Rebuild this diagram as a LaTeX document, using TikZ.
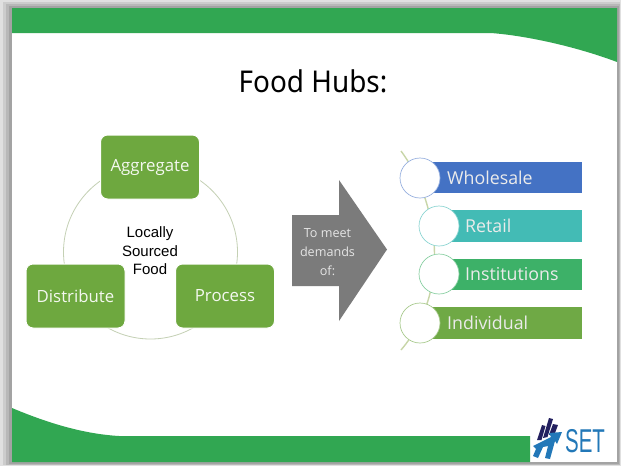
\documentclass[tikz,border=0pt]{standalone}
\usepackage{fontspec}
\setmainfont{Open Sans}
\newfontfamily\arialfont{Liberation Sans}
\newfontfamily\titlefont{Noto Sans}
\definecolor{bandgreen}{HTML}{31A752}
\definecolor{boxgreen}{HTML}{6EA83F}
\definecolor{arrowgray}{HTML}{7B7B7B}
\definecolor{ringgray}{HTML}{C4D0B4}
\definecolor{stem}{HTML}{C8D6A8}
\definecolor{barblue}{HTML}{4472C4}
\definecolor{barteal}{HTML}{43BBB5}
\definecolor{bargreen}{HTML}{3DB168}
\definecolor{barleaf}{HTML}{6FA945}
\definecolor{navy}{HTML}{23205F}
\definecolor{logoblue}{HTML}{2278B8}
\tikzset{
  stepbox/.style={draw=white,line width=1pt,fill=boxgreen,rounded corners=7pt,minimum width=99pt,minimum height=64pt,inner sep=0pt,text=white!92!boxgreen,font=\fontsize{16.8}{18}\selectfont},
  tag/.style={rectangle,inner sep=0pt,minimum height=31.5pt,anchor=west,text=white!92!black,font=\fontsize{17.8}{19}\selectfont,text width=#1,align=left},
  disc/.style={circle,draw=#1,fill=white,line width=.7pt,minimum size=40pt,inner sep=0pt},
}
\begin{document}
\begin{tikzpicture}[x=1pt,y=-1pt]
\useasboundingbox (0,0) rectangle (621,466);
\fill[black!12] (0,0) rectangle (621,466);
\fill[black!20] (3,2) rectangle (620,465);
\fill[black!28] (6,4) rectangle (619.5,465);
\fill[black!36] (9,6) rectangle (618.5,464);
\fill[white] (12,8) rectangle (617,462);
% green bands
\fill[bandgreen] (12,8) -- (617,8) -- (617,62) .. controls (580,48) and (530,36) .. (491,33) -- (12,33) -- cycle;
\fill[bandgreen] (12,462) -- (12,408) .. controls (50,424) and (85,434) .. (119,436) -- (530,436) -- (530,462) -- cycle;
\node[font=\titlefont\fontsize{30}{32}\selectfont,text=black,inner sep=0pt,xscale=.93] (title) at (313,81) {Food Hubs:};
% cycle
\node[circle,draw=ringgray,line width=.8pt,minimum size=174pt,inner sep=0pt] (ring) at (150.5,252) {};
\node[stepbox] (agg) at (150,167) {Aggregate};
\node[stepbox] (dist) at (75.5,296) {Distribute};
\node[stepbox] (proc) at (225,296) {Process};
\node[font=\arialfont\fontsize{15}{18.4}\selectfont,align=center,inner sep=0pt] (core) at (150,251) {Locally\\Sourced\\Food};
% arrow
\fill[arrowgray] (292,215) -- (339,215) -- (339,180) -- (387,249.5) -- (339,321) -- (339,286) -- (292,286) -- cycle;
\node[font=\fontsize{12.6}{19}\selectfont,text=white!90!black,align=center,inner sep=0pt] (need) at (327.5,252) {To meet\\demands\\of:};
% list
\coordinate (s1) at (401,151);
\coordinate (s2) at (401,350);
\draw[stem,line width=1.4pt] (s1) .. controls (434,195) and (456,285) .. (s2);
\node[tag=162pt,fill=barblue] (b1) at (420,177.5) {\hspace{27pt}Wholesale};
\node[tag=143pt,fill=barteal] (b2) at (439,226) {\hspace{26pt}Retail};
\node[tag=143pt,fill=bargreen] (b3) at (439,274.5) {\hspace{26pt}Institutions};
\node[tag=162pt,fill=barleaf] (b4) at (420,323) {\hspace{27pt}Individual};
\node[disc=barblue!55!white] (c1) at (420,178) {};
\node[disc=barteal!60!white] (c2) at (439,226) {};
\node[disc=bargreen!60!white] (c3) at (439,274) {};
\node[disc=barleaf!60!white] (c4) at (420,323) {};
% logo
\fill[navy] (537,440) -- (542,425) -- (545.5,426) -- (541.5,440) -- cycle;
\fill[navy] (543,438) -- (549,418) -- (553,419) -- (547.5,437) -- cycle;
\fill[navy] (549,435) -- (553,424) -- (558,425) -- (555,433) -- cycle;
\fill[logoblue] (533,446) -- (551,437) -- (549,433) -- (562,432) -- (557,444) -- (555,441) -- (550,459) -- (545,458) -- (548,446) -- (543,447) -- (538,458) -- (533,456) -- (536,449) -- cycle;
\node[font=\arialfont\fontsize{33}{33}\selectfont,text=logoblue,inner sep=0pt,xscale=.62] (logo) at (585,441) {SET};
\end{tikzpicture}
\end{document}
